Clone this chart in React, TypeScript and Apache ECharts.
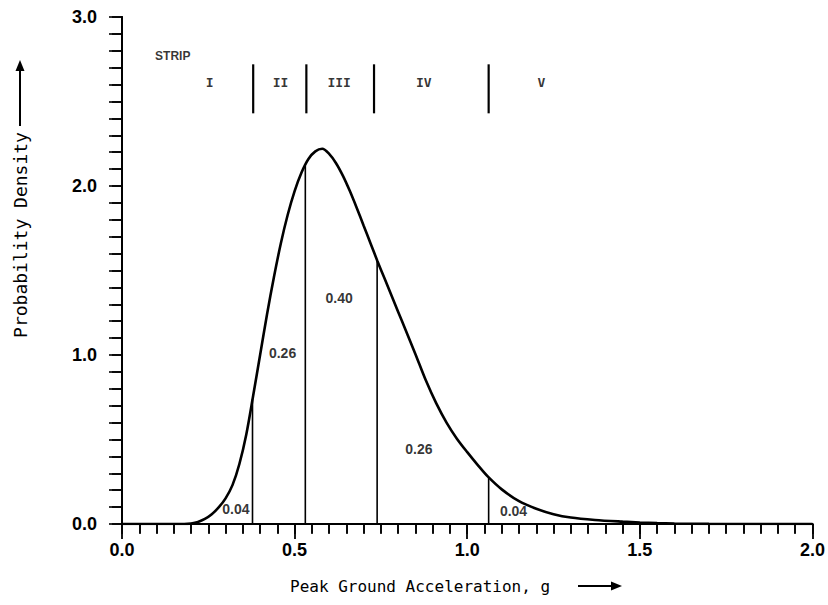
import React, { useEffect, useRef } from "react";
import * as echarts from "echarts";

// Probability density curve
const curveX = [0, 0.1, 0.18, 0.2, 0.22, 0.24, 0.26, 0.28, 0.3, 0.32, 0.34, 0.36, 0.38, 0.4, 0.42, 0.44, 0.46, 0.48, 0.5, 0.52, 0.54, 0.56, 0.58, 0.6, 0.62, 0.64, 0.66, 0.68, 0.7, 0.72, 0.74, 0.76, 0.78, 0.8, 0.82, 0.85, 0.88, 0.91, 0.94, 0.97, 1.0, 1.03, 1.06, 1.1, 1.15, 1.2, 1.25, 1.3, 1.37, 1.45, 1.5, 1.55, 1.6, 1.7, 1.8, 2.0];
const curveY = [0, 0, 0, 0.003, 0.012, 0.03, 0.058, 0.098, 0.152, 0.23, 0.355, 0.53, 0.76, 1.0, 1.24, 1.46, 1.66, 1.83, 1.97, 2.08, 2.16, 2.205, 2.22, 2.19, 2.135, 2.06, 1.97, 1.87, 1.765, 1.66, 1.555, 1.455, 1.355, 1.255, 1.155, 1.005, 0.85, 0.715, 0.6, 0.505, 0.425, 0.35, 0.28, 0.205, 0.135, 0.09, 0.058, 0.038, 0.024, 0.014, 0.009, 0.005, 0.003, 0.001, 0, 0];

// Strip boundaries under the curve
const boundaryX = [0.378, 0.531, 0.739, 1.062];
const boundaryH = [0.74, 2.12, 1.56, 0.275];

// Strip dividers near the top
const dividerX = [0.38, 0.534, 0.73, 1.062];
const dividerTop = 2.72;
const dividerBottom = 2.43;

// Strip labels
const stripNames = ["I", "II", "III", "IV", "V"];
const stripNameX = [0.254, 0.459, 0.629, 0.874, 1.215];
const stripNameY = 2.615;
const stripTitle = "STRIP";
const stripTitleX = 0.147;
const stripTitleY = 2.77;

// Probability labels inside the areas
const areaText = ["0.04", "0.26", "0.40", "0.26", "0.04"];
const areaX = [0.33, 0.465, 0.629, 0.86, 1.134];
const areaY = [0.09, 1.01, 1.34, 0.444, 0.075];

const xTickLabels = ["0.0", "0.5", "1.0", "1.5", "2.0"];
const yTickLabels = ["0.0", "1.0", "2.0", "3.0"];

const xTitle = "Peak Ground Acceleration, g";
const yTitle = "Probability Density";

export default function App() {
  const ref = useRef<HTMLDivElement>(null);
  useEffect(() => {
    if (!ref.current) return;
    const chart = echarts.init(ref.current, null, { renderer: "svg" });
    const black = "#000";
    const tickFont = { fontFamily: "Liberation Sans", fontWeight: "bold" as const, fontSize: 18, color: black };

    const boundarySeries = boundaryX.map((x, i) => ({
      type: "line",
      data: [[x, 0], [x, boundaryH[i]]],
      showSymbol: false,
      symbol: "none",
      lineStyle: { color: black, width: 1.6 },
      silent: true,
      z: 3,
    }));
    const dividerSeries = dividerX.map((x) => ({
      type: "line",
      data: [[x, dividerBottom], [x, dividerTop]],
      showSymbol: false,
      symbol: "none",
      lineStyle: { color: black, width: 2.2 },
      silent: true,
      z: 3,
    }));

    const option: any = {
      animation: false,
      backgroundColor: "#fff",
      grid: { left: 122, right: 13, top: 17, bottom: 81, containLabel: false },
      xAxis: [
        {
          type: "value",
          position: "bottom",
          min: 0,
          max: 2,
          interval: 0.5,
          axisLine: { show: true, lineStyle: { color: black, width: 2 } },
          axisTick: { show: true, inside: false, length: 15, lineStyle: { color: black, width: 1.8 } },
          minorTick: { show: true, splitNumber: 10, length: 9, lineStyle: { color: black, width: 1.6 } },
          splitLine: { show: false },
          minorSplitLine: { show: false },
          axisLabel: {
            ...tickFont,
            margin: 17,
            formatter: (v: number) => xTickLabels[Math.round(v / 0.5)] ?? "",
          },
        },
        {
          type: "value",
          position: "top",
          min: 0,
          max: 2,
          interval: 0.05,
          axisLine: { show: true, lineStyle: { color: black, width: 2 } },
          axisTick: { show: true, inside: true, length: 10, lineStyle: { color: black, width: 1.6 } },
          splitLine: { show: false },
          axisLabel: { show: false },
        },
      ],
      yAxis: [
        {
          type: "value",
          position: "left",
          min: 0,
          max: 3,
          interval: 1,
          axisLine: { show: true, lineStyle: { color: black, width: 2 } },
          axisTick: { show: true, inside: false, length: 13, lineStyle: { color: black, width: 1.6 } },
          minorTick: { show: true, splitNumber: 10, length: 13, lineStyle: { color: black, width: 1.6 } },
          splitLine: { show: false },
          minorSplitLine: { show: false },
          axisLabel: {
            ...tickFont,
            margin: 25,
            formatter: (v: number) => yTickLabels[Math.round(v)] ?? "",
          },
        },
        {
          type: "value",
          position: "right",
          min: 0,
          max: 3,
          interval: 0.1,
          axisLine: { show: true, lineStyle: { color: black, width: 2 } },
          axisTick: { show: true, inside: true, length: 10, lineStyle: { color: black, width: 1.6 } },
          splitLine: { show: false },
          axisLabel: { show: false },
        },
      ],
      series: [
        {
          type: "line",
          data: curveX.map((x, i) => [x, curveY[i]]),
          smooth: 0.3,
          showSymbol: false,
          symbol: "none",
          lineStyle: { color: black, width: 2.6 },
          silent: true,
          z: 4,
        },
        ...boundarySeries,
        ...dividerSeries,
        {
          type: "scatter",
          symbolSize: 0,
          silent: true,
          data: areaText.map((t, i) => ({ name: t, value: [areaX[i], areaY[i]] })),
          label: {
            show: true,
            position: "inside",
            formatter: (p: any) => p.name,
            fontFamily: "Liberation Sans",
            fontWeight: "bold",
            fontSize: 14,
            color: black,
          },
          z: 5,
        },
        {
          type: "scatter",
          symbolSize: 0,
          silent: true,
          data: stripNames.map((t, i) => ({ name: t, value: [stripNameX[i], stripNameY] })),
          label: {
            show: true,
            position: "inside",
            formatter: (p: any) => p.name,
            fontFamily: "DejaVu Sans Mono",
            fontWeight: "bold",
            fontSize: 13,
            color: black,
          },
          z: 5,
        },
        {
          type: "scatter",
          symbolSize: 0,
          silent: true,
          data: [{ name: stripTitle, value: [stripTitleX, stripTitleY] }],
          label: {
            show: true,
            position: "inside",
            formatter: (p: any) => p.name,
            fontFamily: "Liberation Sans",
            fontWeight: "bold",
            fontSize: 12,
            color: black,
          },
          z: 5,
        },
      ],
      graphic: [
        {
          type: "text",
          left: 290,
          top: 578,
          style: {
            text: xTitle,
            fontFamily: "DejaVu Sans Mono",
            fontSize: 16,
            fill: black,
          },
        },
        {
          type: "line",
          shape: { x1: 578, y1: 586, x2: 614, y2: 586 },
          style: { stroke: black, lineWidth: 2 },
        },
        {
          type: "polygon",
          shape: { points: [[622, 586], [611, 581.5], [611, 590.5]] },
          style: { fill: black },
        },
        {
          type: "text",
          x: 20,
          y: 235,
          rotation: Math.PI / 2,
          style: {
            text: yTitle,
            fontFamily: "DejaVu Sans Mono",
            fontSize: 18,
            fill: black,
            align: "center",
            verticalAlign: "middle",
          },
        },
        {
          type: "line",
          shape: { x1: 20, y1: 126, x2: 20, y2: 68 },
          style: { stroke: black, lineWidth: 2 },
        },
        {
          type: "polygon",
          shape: { points: [[20, 60], [15.5, 71], [24.5, 71]] },
          style: { fill: black },
        },
      ],
    };
    chart.setOption(option);
    return () => chart.dispose();
  }, []);
  return (
    <div
      ref={ref}
      style={{ position: "fixed", left: 0, top: 0, width: 828, height: 605, background: "#fff" }}
    />
  );
}
